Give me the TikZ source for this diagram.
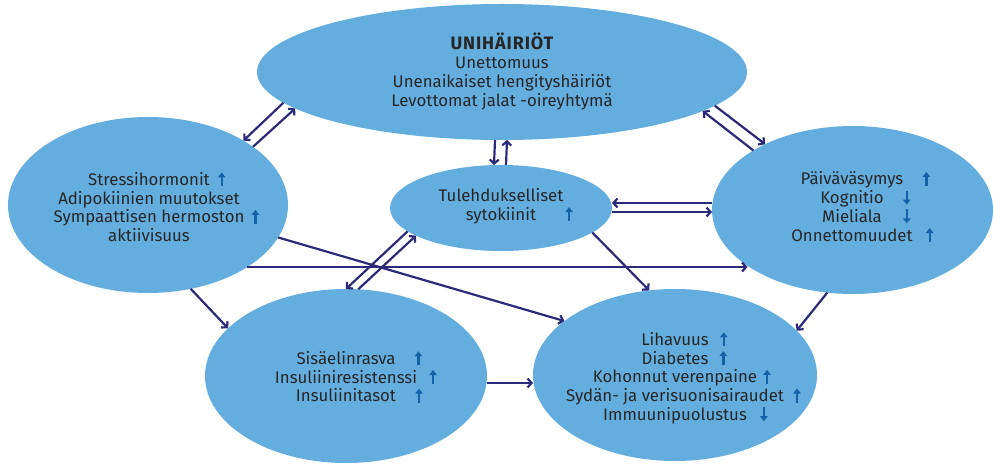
\documentclass[tikz,border=0pt]{standalone}
\usepackage{fontspec}
\setmainfont{Fira Sans}
\usetikzlibrary{arrows.meta,shapes.geometric,calc}
\definecolor{blobc}{HTML}{64AEDF}
\definecolor{navy}{HTML}{2B2A7A}
\definecolor{upblue}{HTML}{1363A6}
\definecolor{ink}{HTML}{262626}
\newcommand{\myup}{\tikz[baseline=0pt]\draw[draw=upblue,line width=2.4pt,-{Triangle[length=5pt,width=7.5pt]}] (0pt,-1pt) -- (0pt,13pt);}
\newcommand{\mydn}{\tikz[baseline=0pt]\draw[draw=upblue,line width=2.4pt,-{Triangle[length=5pt,width=7.5pt]}] (0pt,13pt) -- (0pt,-1pt);}
\newcommand{\ua}[1]{\rlap{\hspace{#1pt}\makebox[0pt]{\myup}}}
\newcommand{\da}[1]{\rlap{\hspace{#1pt}\makebox[0pt]{\mydn}}}
\begin{document}
\begin{tikzpicture}[x=1pt,y=-1pt,
 blobshape/.style={ellipse, fill=blobc, draw=none, inner sep=0pt, outer sep=0pt},
 txt/.style={align=center, text=ink, font=\fontsize{16.8}{18.7}\selectfont, inner sep=0pt},
 link/.style={draw=navy, line width=2.2pt, -{Straight Barb[length=4pt,width=9pt]}},
]
\useasboundingbox (0,0) rectangle (993,465);
\node[blobshape, minimum width=490, minimum height=136] (T) at (502,72) {};
\node[blobshape, minimum width=280, minimum height=176] (L) at (148,205) {};
\node[blobshape, minimum width=222, minimum height=86] (M) at (501,208) {};
\node[blobshape, minimum width=281, minimum height=168] (R) at (852.5,210) {};
\node[blobshape, minimum width=282, minimum height=174] (BL) at (346,376) {};
\node[blobshape, minimum width=284, minimum height=172] (BR) at (675,375) {};

\node[txt] (Tt) at (502,71.5) {{\fontsize{18}{18.7}\selectfont\bfseries\addfontfeature{LetterSpace=5}UNIHÄIRIÖT}\\Unettomuus\\Unenaikaiset hengityshäiriöt\\Levottomat jalat -oireyhtymä};
\node[txt] (Lt) at (149,206.5) {Stressihormonit\ua{12}\\Adipokiinien muutokset\\Sympaattisen hermoston\ua{11}\\aktiivisuus};
\node[txt] (Mt) at (501,206) {Tulehdukselliset\\sytokiinit\ua{33}};
\node[txt] (Rt) at (852,207) {Päiväväsymys\ua{23}\\Kognitio\da{23}\\Mieliala\da{25}\\Onnettomuudet\ua{17}};
\node[txt] (BLt) at (346,377) {Sisäelinrasva\ua{23}\\Insuliiniresistenssi\ua{16}\\Insuliinitasot\ua{23}};
\node[txt] (BRt) at (675,377.5) {Lihavuus\ua{15}\\Diabetes\ua{15}\\Kohonnut verenpaine\ua{10}\\Sydän- ja verisuonisairaudet\ua{13}\\Immuunipuolustus\da{17}};

% top <-> left
\draw[link] (T.188.3) -- (L.34);
\draw[link] (L.29.5) -- (T.190);
% top <-> right
\draw[link] (R.149.3) -- (T.349.3);
\draw[link] (T.351.4) -- (R.143.4);
% top <-> middle
\draw[link] ([xshift=-7pt]T.south) -- ([xshift=-7pt]M.north);
\draw[link] ([xshift=5pt]M.north) -- ([xshift=5pt]T.south);
% middle <-> bottom-left
\draw[link] (M.194) -- (BL.90.6);
\draw[link] (BL.82) -- (M.198.6);
% middle <-> right
\coordinate (e1) at ([yshift=5pt]M.east);
\coordinate (e2) at ([yshift=-4pt]M.east);
\draw[link] (e1 -| R.west) -- (e1);
\draw[link] (e2) -- (e2 -| R.west);
% middle -> bottom-right
\draw[link] (M.345) -- (BR.107.2);
% left -> right
\draw[link] (L.328) -- (R.208 |- L.328);
% left -> bottom-right
\draw[link] (L.346.8) -- (BR.154.9);
% left -> bottom-left
\draw[link] (L.297.4) -- (BL.158.7);
% bottom-left -> bottom-right
\coordinate (j1) at ([yshift=-7pt]BL.east);
\draw[link] (j1) -- (j1 -| BR.west);
% right -> bottom-right
\draw[link] (R.253.4) -- (BR.20.9);
\end{tikzpicture}
\end{document}
